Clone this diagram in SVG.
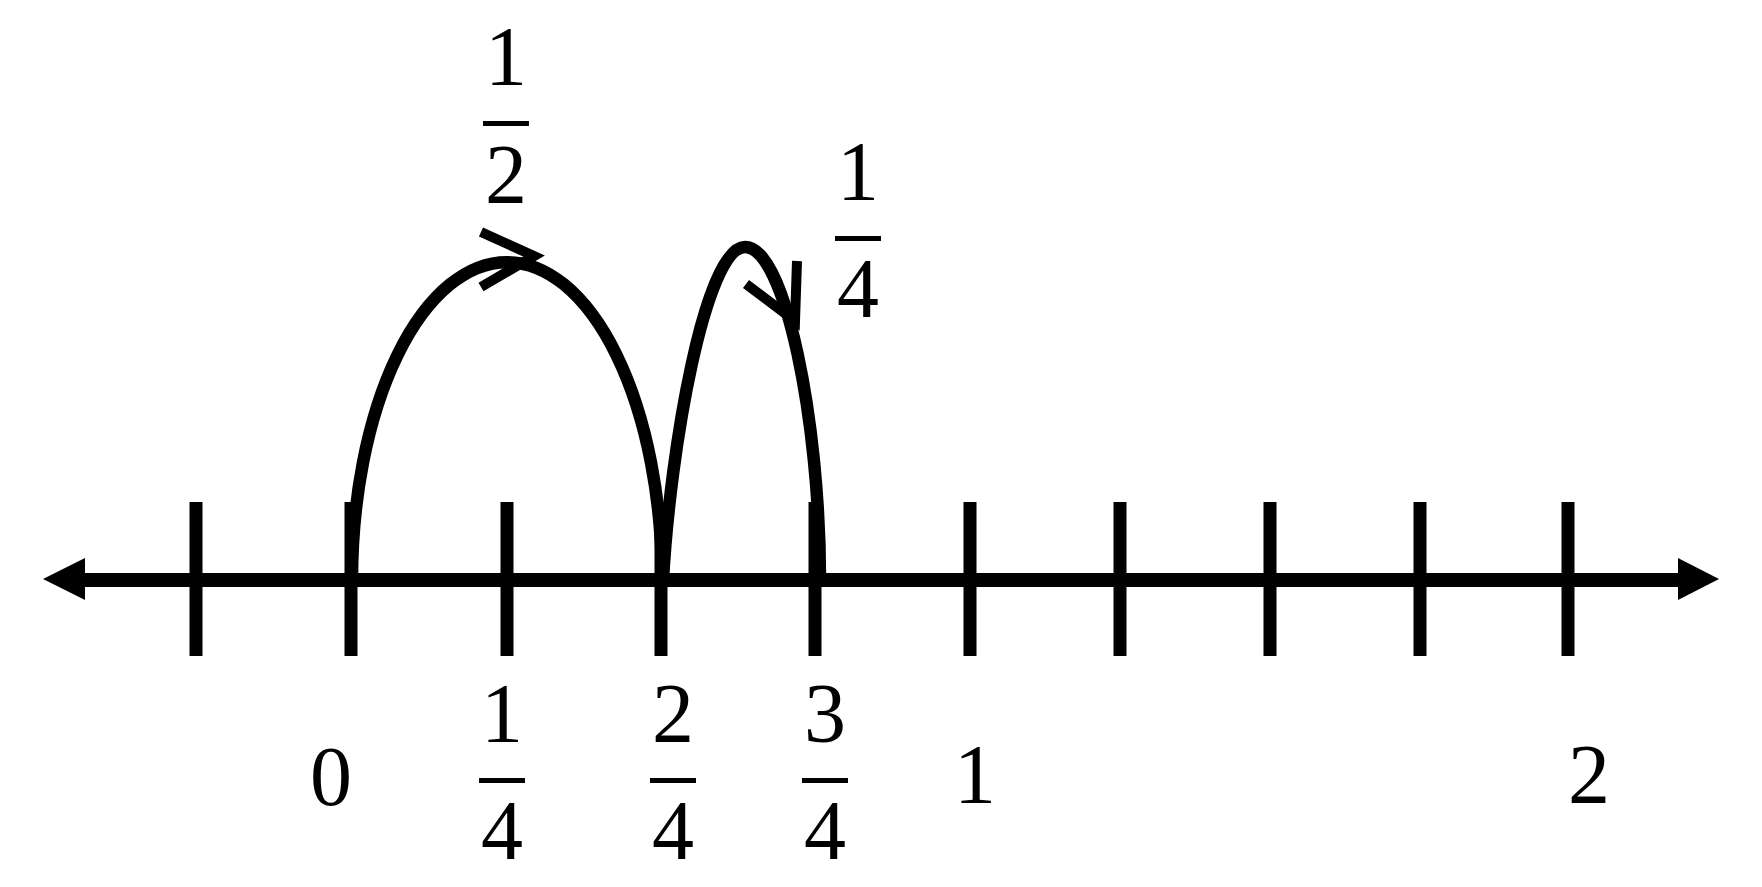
<svg xmlns="http://www.w3.org/2000/svg" width="1762" height="887" viewBox="0 0 1762 887">
<style>
.axis{stroke:#000;stroke-width:14;fill:none}
.tick{stroke:#000;stroke-width:13;fill:none}
.arc{stroke:#000;stroke-width:12.5;fill:none}
.head{stroke:#000;stroke-width:10;fill:none;stroke-linejoin:miter;stroke-miterlimit:10}
.bar{stroke:#000;stroke-width:5}
text{font-family:"Liberation Serif","Times New Roman",serif;font-size:84px;fill:#000;text-anchor:middle}
</style>
<rect width="1762" height="887" fill="#fff"/>
<g id="number-line">
<line class="axis" x1="80" y1="580" x2="1682" y2="580"/>
<polygon points="43,579 85,558 85,600" fill="#000"/>
<polygon points="1719,579 1678,558 1678,600" fill="#000"/>
</g>
<g id="ticks">
<line class="tick" x1="196" y1="502" x2="196" y2="656"/>
<line class="tick" x1="351" y1="502" x2="351" y2="656"/>
<line class="tick" x1="507" y1="502" x2="507" y2="656"/>
<line class="tick" x1="661" y1="502" x2="661" y2="656"/>
<line class="tick" x1="815" y1="502" x2="815" y2="656"/>
<line class="tick" x1="970" y1="502" x2="970" y2="656"/>
<line class="tick" x1="1120" y1="502" x2="1120" y2="656"/>
<line class="tick" x1="1270" y1="502" x2="1270" y2="656"/>
<line class="tick" x1="1420" y1="502" x2="1420" y2="656"/>
<line class="tick" x1="1568" y1="502" x2="1568" y2="656"/>
</g>
<g id="connectors">
<g id="jump-half">
<path class="arc" d="M352,580 A155,318 0 0 1 662,580"/>
<polyline class="head" points="481,232 534,256 481,287"/>
</g>
<g id="jump-quarter">
<path class="arc" d="M663,580 C670,450 705,247 745,247 C785,247 820,420 820,580"/>
<polyline class="head" points="746,284 795,321 797,261"/>
</g>
</g>
<g id="label-jump-half">
<text x="506" y="85">1</text>
<line class="bar" x1="483" y1="123.5" x2="529" y2="123.5"/>
<text x="506" y="203">2</text>
</g>
<g id="label-jump-quarter">
<text x="858" y="200">1</text>
<line class="bar" x1="835" y1="238.5" x2="881" y2="238.5"/>
<text x="858" y="317">4</text>
</g>
<g id="label-0"><text x="331" y="805">0</text></g>
<g id="label-1-4">
<text x="502" y="742">1</text>
<line class="bar" x1="479" y1="780.5" x2="525" y2="780.5"/>
<text x="502" y="859">4</text>
</g>
<g id="label-2-4">
<text x="673" y="742">2</text>
<line class="bar" x1="650" y1="780.5" x2="696" y2="780.5"/>
<text x="673" y="859">4</text>
</g>
<g id="label-3-4">
<text x="825" y="742">3</text>
<line class="bar" x1="802" y1="780.5" x2="848" y2="780.5"/>
<text x="825" y="859">4</text>
</g>
<g id="label-1"><text x="975" y="803">1</text></g>
<g id="label-2"><text x="1589" y="803">2</text></g>
</svg>
